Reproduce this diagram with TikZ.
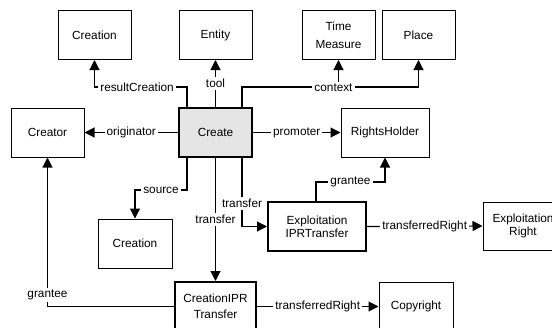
\documentclass[tikz,border=0pt]{standalone}
\usepackage{fontspec}
\setmainfont{Liberation Sans}
\usetikzlibrary{arrows.meta}
\begin{document}
\begin{tikzpicture}[x=1pt,y=-1pt,
  font=\fontsize{11.8}{14}\selectfont,
  box/.style={draw, line width=1pt, fill=white, minimum width=73pt, minimum height=49pt, inner sep=0pt, align=center},
  heavy/.style={box, line width=2pt},
  arr/.style={draw, line width=1.1pt, -{Triangle[length=10pt,width=10pt]}},
  lbl/.style={fill=white, inner sep=2pt}]
\useasboundingbox (0,0) rectangle (552,327);

% class boxes
\node[box] (creationTop) at (94.5,35) {Creation};
\node[box] (entity) at (215.5,35) {Entity};
\node[box] (time) at (338.5,35) {Time\\[4pt]Measure};
\node[box] (place) at (418.5,35) {Place};
\node[box] (creator) at (47.5,132.5) {Creator};
\node[heavy, fill=black!10] (create) at (215.5,132.5) {Create};
\node[box, minimum width=88pt] (rights) at (385,132.5) {RightsHolder};
\node[box, minimum width=74pt] (creationBot) at (135,243.5) {Creation};
\node[heavy, minimum width=98pt] (exploit) at (317,226.5) {Exploitation\\[-1pt]IPRTransfer};
\node[box, minimum width=80pt, minimum height=48pt] (exright) at (523,226) {Exploitation\\[-1pt]Right};
\node[heavy, minimum width=81pt] (cipr) at (215.5,306.5) {CreationIPR\\[2pt]Transfer};
\node[box, minimum width=74pt] (copyright) at (416,306.5) {Copyright};

% relations leaving Create upwards
\draw[arr] ([xshift=-28.5pt]create.north) -- ++(0,-20)
  -| node[lbl, pos=0.27] {resultCreation} (creationTop.south);
\draw[arr] (create.north) -- node[lbl] {tool} (entity.south);
\coordinate (ctx) at (time.south |- 0,88);
\draw[arr] (ctx) -- (time.south);
\draw[arr] ([xshift=26.5pt]create.north) -- ++(0,-20) -| (place.south);
\node[lbl] at ([xshift=-5pt]ctx) {context};

% sideways relations
\draw[arr] (create.west) -- node[lbl] {originator} (creator.east);
\draw[arr] (create.east) -- node[lbl] {promoter} (rights.west);

% relations leaving Create downwards
\draw[arr] ([xshift=-28.5pt]create.south) -- ++(0,32)
  -| node[lbl, pos=0.25] {source} (creationBot.north);
\draw[arr] (create.south) -- node[lbl] {transfer} (cipr.north);
\draw[arr] ([xshift=26.5pt]create.south) |- node[lbl, pos=0.33] {transfer} (exploit.west);

% transfers
\draw[arr] ([xshift=-1pt]exploit.north) -- ++(0,-19)
  -| node[lbl, pos=0.25] {grantee} (rights.south);
\draw[arr] (exploit.east) -- node[lbl] {transferredRight} (exright.west);
\draw[arr] (cipr.west) -| node[lbl, pos=0.54] {grantee} (creator.south);
\draw[arr] (cipr.east) -- node[lbl] {transferredRight} (copyright.west);
\end{tikzpicture}
\end{document}
